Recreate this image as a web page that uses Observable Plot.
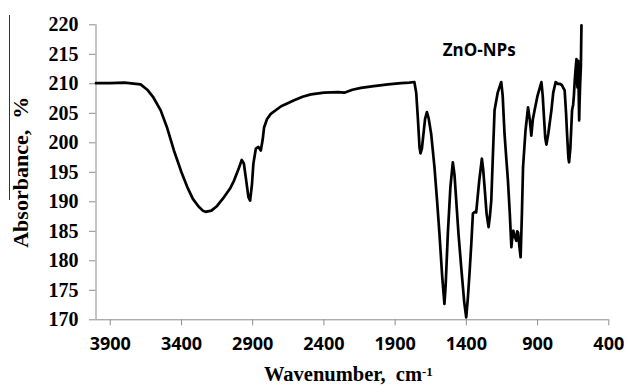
<!DOCTYPE html>
<html><head><meta charset="utf-8">
<script src="https://cdn.jsdelivr.net/npm/d3@7"></script>
<script src="https://cdn.jsdelivr.net/npm/@observablehq/plot@0.6"></script>
<style>
body{margin:0;background:#fff}
#chart{position:relative;width:627px;height:386px;overflow:hidden}
#artifact{position:absolute;left:9px;top:15px;width:1px;height:185px;background:#333}
</style>
</head><body><div id="chart"><div id="artifact"></div></div>
<script>
// Wavenumber (cm-1) and absorbance (%)
const wavenumber = [4000,3900,3800,3720,3687,3640,3600,3546,3500,3453,3400,3359,3320,3280,3250,3230,3190,3150,3101,3060,3031,3000,2977,2962,2945,2930,2918,2905,2895,2878,2860,2843,2830,2820,2800,2773,2700,2609,2550,2491,2400,2300,2257,2200,2140,2050,1950,1858,1800,1765,1752,1740,1729,1722,1712,1706,1690,1677,1665,1647,1624,1605,1589,1570,1554,1545,1530,1512,1495,1483,1471,1455,1436,1415,1401,1390,1378,1365,1354,1340,1331,1310,1291,1282,1272,1258,1244,1235,1225,1215,1202,1180,1155,1145,1132,1120,1108,1095,1084,1075,1070,1061,1049,1043,1037,1028,1019,1010,1002,985,967,955,944,933,921,900,873,864,855,846,838,825,803,790,773,760,745,730,717,710,700,693,684,679,670,658,650,645,639,633,627,623,620,617,615,611,608,605,601,596,592];
const absorbance = [210.1,210.1,210.2,210.0,209.9,209.0,207.8,205.5,202.5,198.7,195.0,192.5,190.5,189.2,188.5,188.3,188.5,189.3,190.8,192.2,193.6,195.5,197.1,196.5,193.5,190.8,190.2,193.0,196.5,199.0,199.3,198.7,200.5,202.6,204.0,204.9,206.2,207.2,207.8,208.2,208.5,208.6,208.5,209.0,209.3,209.6,209.9,210.1,210.2,210.3,208.5,204.0,199.3,198.2,199.0,200.4,204.0,205.2,204.2,201.5,195.9,190.0,184.6,177.5,172.7,176.0,184.6,192.5,196.7,194.5,190.2,184.5,178.9,173.0,170.4,173.5,177.8,183.0,188.0,188.3,188.2,193.5,197.3,195.5,192.5,188.0,185.7,187.5,190.2,197.0,205.5,208.5,210.3,208.0,201.5,197.5,193.6,188.0,182.3,184.5,185.1,184.2,183.4,185.0,184.8,182.5,180.6,188.0,195.9,202.0,206.0,204.0,201.2,204.0,205.5,208.0,210.3,208.0,204.3,200.8,199.7,201.5,205.5,208.5,210.3,210.0,210.0,209.8,209.2,208.9,205.0,201.5,197.5,196.7,199.0,205.5,206.5,208.0,210.6,212.5,214.2,211.0,209.4,213.0,213.9,208.0,203.8,207.0,210.0,213.0,219.9];

const xTicks = [3900,3400,2900,2400,1900,1400,900,400];
const yTicks = [170,175,180,185,190,195,200,205,210,215,220];
const xTitle = "Wavenumber,\u00a0 cm";
const xTitleSup = "-1";
const yTitle = "Absorbance,\u00a0 %";
const seriesLabel = ["ZnO-NPs"];
const seriesLabelX = [1310];
const seriesLabelY = [215.6];

const spectrum = wavenumber.map((w, i) => ({w, a: absorbance[i]}));
const label = seriesLabel.map((t, i) => ({t, x: seriesLabelX[i], y: seriesLabelY[i]}));

const serif = "'Liberation Serif', 'Times New Roman', serif";
const sans = "'Open Sans', 'Liberation Sans', sans-serif";

const chart = Plot.plot({
  width: 627,
  height: 386,
  marginLeft: 95.5,
  marginRight: 18.7,
  marginTop: 24.3,
  marginBottom: 66.7,
  style: {background: "#fff", overflow: "visible"},
  x: {domain: [4000, 400]},
  y: {domain: [170, 220]},
  marks: [
    Plot.axisX({ticks: xTicks, tickSize: 6, tickPadding: 11, stroke: "#8c8c8c", fill: "#000",
      fontSize: 18, fontWeight: "bold", fontFamily: sans, label: null, tickFormat: d => String(d)}),
    Plot.axisY({ticks: yTicks, tickSize: 6.5, tickPadding: 11, stroke: "#8c8c8c", fill: "#000",
      fontSize: 20, fontWeight: "bold", fontFamily: serif, label: null}),
    Plot.ruleY([170], {stroke: "#8c8c8c", strokeWidth: 1}),
    Plot.ruleX([4000], {stroke: "#8c8c8c", strokeWidth: 1}),
    Plot.line(spectrum, {x: "w", y: "a", stroke: "#000", strokeWidth: 2.7, strokeLinejoin: "round", strokeLinecap: "round", curve: "linear"}),
    Plot.text(label, {x: "x", y: "y", text: "t", fontSize: 17, fontWeight: "bold", fontFamily: sans, fill: "#000"}),
    Plot.text([xTitle], {frameAnchor: "bottom", dy: 55, dx: -4, text: d => d, fontSize: 20.5, fontWeight: "bold", fontFamily: serif, fill: "#000", lineAnchor: "middle"}),
    Plot.text([yTitle], {frameAnchor: "left", textAnchor: "middle", lineAnchor: "middle", dx: -75.5, dy: 0, rotate: -90, text: d => d, fontSize: 22, fontWeight: "bold", fontFamily: serif, fill: "#000"})
  ]
});

d3.select(chart).selectAll("text").filter(function(){ return this.textContent === xTitle; })
  .each(function(){
    d3.select(this).append("tspan").attr("dy", "-0.45em").attr("font-size", 13).text(xTitleSup);
  });

document.getElementById("chart").appendChild(chart);
</script></body></html>
